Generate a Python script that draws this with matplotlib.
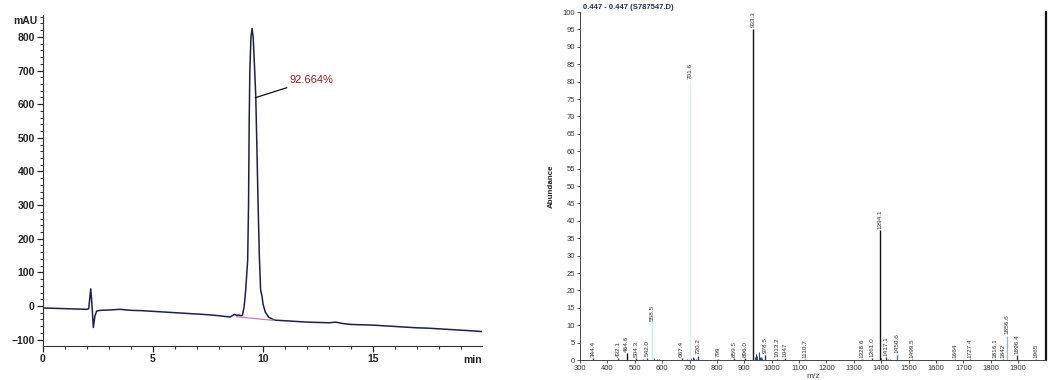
import matplotlib
matplotlib.use("Agg")
import matplotlib.pyplot as plt
from matplotlib.ticker import MultipleLocator

plt.rcParams['font.family'] = ['Liberation Sans', 'DejaVu Sans']

# ---------------- HPLC chromatogram data ----------------
rt_min = [0, 0.5, 1.0, 1.5, 2.0, 2.08, 2.17, 2.22, 2.29, 2.36, 2.44, 2.6, 3.0,
          3.5, 4.0, 4.5, 5.0, 5.5, 6.0, 6.5, 7.0, 7.5, 8.0, 8.5, 8.7, 8.8,
          8.9, 9.0, 9.06, 9.14, 9.21, 9.30, 9.34, 9.37, 9.40, 9.45, 9.50,
          9.55, 9.62, 9.67, 9.72, 9.77, 9.83, 9.89, 9.95, 10.0, 10.1, 10.25,
          10.5, 11.0, 11.5, 12.0, 12.5, 13.0, 13.3, 13.6, 14.0, 14.5, 15.0,
          15.5, 16.0, 16.5, 17.0, 17.5, 18.0, 18.5, 19.0, 19.5, 19.95]
signal_mau = [-6, -7, -8, -9, -10, -8, 51, 10, -64, -30, -15, -13, -12,
              -10, -13, -14, -16, -18, -20, -22, -24, -26, -29, -33, -25, -28,
              -27, -29, -28, -3, 47, 136, 300, 550, 700, 800, 825,
              800, 700, 620, 470, 314, 150, 47, 30, 5, -18, -33,
              -42, -44, -46, -48, -49, -50, -48, -52, -55, -56, -57,
              -59, -61, -63, -65, -66, -68, -70, -72, -74, -76]
int_base_t = [8.8, 10.5]
int_base_v = [-32, -43]
purity_label = "92.664%"

# ---------------- MS spectrum data ----------------
ms_mz = [348, 440, 470, 505, 546, 562, 671, 702, 731, 803, 862, 902, 932,
         976, 1018, 1049, 1122, 1329, 1367, 1395, 1419, 1456, 1511, 1669,
         1726, 1815, 1845, 1858, 1897, 1964]
ms_abund = [0.6, 0.6, 2.0, 0.5, 0.7, 10.8, 0.5, 80.4, 1.2, 0.4, 0.5, 0.6,
            95.2, 1.5, 0.4, 0.5, 0.3, 0.3, 0.5, 37.3, 0.8, 1.5, 0.3, 0.3,
            0.3, 0.3, 0.3, 7.0, 1.3, 0.3]
ms_labels = ["344.4", "432.1", "464.6", "504.3", "542.0", "558.5", "667.4",
             "701.6", "720.2", "799", "859.5", "896.0", "933.3", "978.5",
             "1013.2", "1047", "1110.7", "1328.6", "1361.0", "1394.1",
             "1417.1", "1450.6", "1499.5", "1664", "1727.4", "1816.1",
             "1842", "1856.6", "1896.4", "1965"]
ms_colors = ["#2b3a67", "#2b3a67", "#111111", "#2b3a67", "#2b3a67", "#bfeeee",
             "#2b3a67", "#cdf2f2", "#2b3a67", "#2b3a67", "#2b3a67", "#2b3a67",
             "#111111", "#2b3a67", "#2b3a67", "#2b3a67", "#2b3a67", "#2b3a67",
             "#2b3a67", "#111111", "#2b3a67", "#4a7aa8", "#2b3a67", "#2b3a67",
             "#2b3a67", "#2b3a67", "#2b3a67", "#9ab8c8", "#2b3a67", "#2b3a67"]
minor_mz = [530, 572, 580, 590, 690, 707, 712, 716, 725, 940, 944, 948, 952,
            956, 960, 965, 1400, 1425, 1432]
minor_abund = [0.3, 0.5, 0.4, 0.3, 0.4, 0.6, 0.8, 0.5, 0.4, 1.0, 1.8, 1.2,
               2.2, 1.0, 0.8, 0.6, 0.5, 0.4, 0.3]
ms_title = "0.447 - 0.447 (S787547.D)"

fig = plt.figure(figsize=(10.53, 3.80), dpi=100)

# ---------------- Left panel ----------------
ax1 = fig.add_axes([0.0408, 0.0895, 0.4170, 0.8710])
ax1.plot(rt_min, signal_mau, color="#1c1f4f", lw=1.1)
ax1.plot(int_base_t, int_base_v, color="#c77ac7", lw=0.9)
ax1.set_xlim(0, 19.95)
ax1.set_ylim(-119, 865)
for s in ["top", "right"]:
    ax1.spines[s].set_visible(False)
ax1.spines["left"].set_color("#333333")
ax1.spines["bottom"].set_color("#333333")
ax1.xaxis.set_major_locator(MultipleLocator(5))
ax1.xaxis.set_minor_locator(MultipleLocator(1))
ax1.yaxis.set_major_locator(MultipleLocator(100))
ax1.yaxis.set_minor_locator(MultipleLocator(20))
ax1.tick_params(axis="both", which="major", direction="out", length=4,
                width=0.9, labelsize=7.5, colors="#222222", pad=2)
ax1.tick_params(axis="both", which="minor", direction="out", length=2.5,
                width=0.8, colors="#333333")
for lab in ax1.get_xticklabels() + ax1.get_yticklabels():
    lab.set_fontweight("bold")
ax1.annotate(purity_label, xy=(9.64, 619), xytext=(11.2, 672),
             color="#8b1a1a", fontsize=8, va="center", ha="left",
             arrowprops=dict(arrowstyle="-", color="#111111", lw=0.9,
                             shrinkA=0, shrinkB=0))
fig.text(0.024, 0.945, "mAU", fontsize=7.5, ha="center", va="center",
         color="#222222", fontweight="bold")
fig.text(0.449, 0.053, "min", fontsize=7.5, ha="center", va="center",
         color="#222222", fontweight="bold")

# ---------------- Right panel ----------------
ax2 = fig.add_axes([0.5508, 0.0526, 0.4426, 0.9158])
ax2.vlines(minor_mz, 0, minor_abund, colors="#2b4a7a", lw=0.8)
ax2.vlines(ms_mz, 0, ms_abund, colors=ms_colors, lw=1.0)
for x, h, lab in zip(ms_mz, ms_abund, ms_labels):
    ax2.text(x, h + 0.4, lab, rotation=90, fontsize=4.6, ha="center",
             va="bottom", color="#333333")
ax2.set_xlim(300, 2002)
ax2.set_ylim(0, 100)
ax2.spines["top"].set_visible(False)
ax2.spines["right"].set_linewidth(1.6)
ax2.spines["right"].set_color("#111111")
ax2.spines["left"].set_color("#444444")
ax2.spines["left"].set_linewidth(0.7)
ax2.spines["bottom"].set_color("#444444")
ax2.spines["bottom"].set_linewidth(0.7)
ax2.yaxis.set_major_locator(MultipleLocator(5))
ax2.set_xticks(range(300, 2000, 100))
ax2.tick_params(axis="both", direction="out", length=2, width=0.6,
                labelsize=5.5, colors="#333333", pad=1.5)
ax2.tick_params(axis="y", which="both", right=False)
ax2.set_xlabel("m/z", fontsize=6, labelpad=0.5, color="#333333")
ax2.set_ylabel("Abundance", fontsize=5.8, labelpad=6, color="#222222",
               fontweight="bold")
ax2.text(0.007, 1.003, ms_title, transform=ax2.transAxes, fontsize=5.5,
         ha="left", va="bottom", color="#1f3050", fontweight="bold")

fig.savefig("out.png", dpi=100)
